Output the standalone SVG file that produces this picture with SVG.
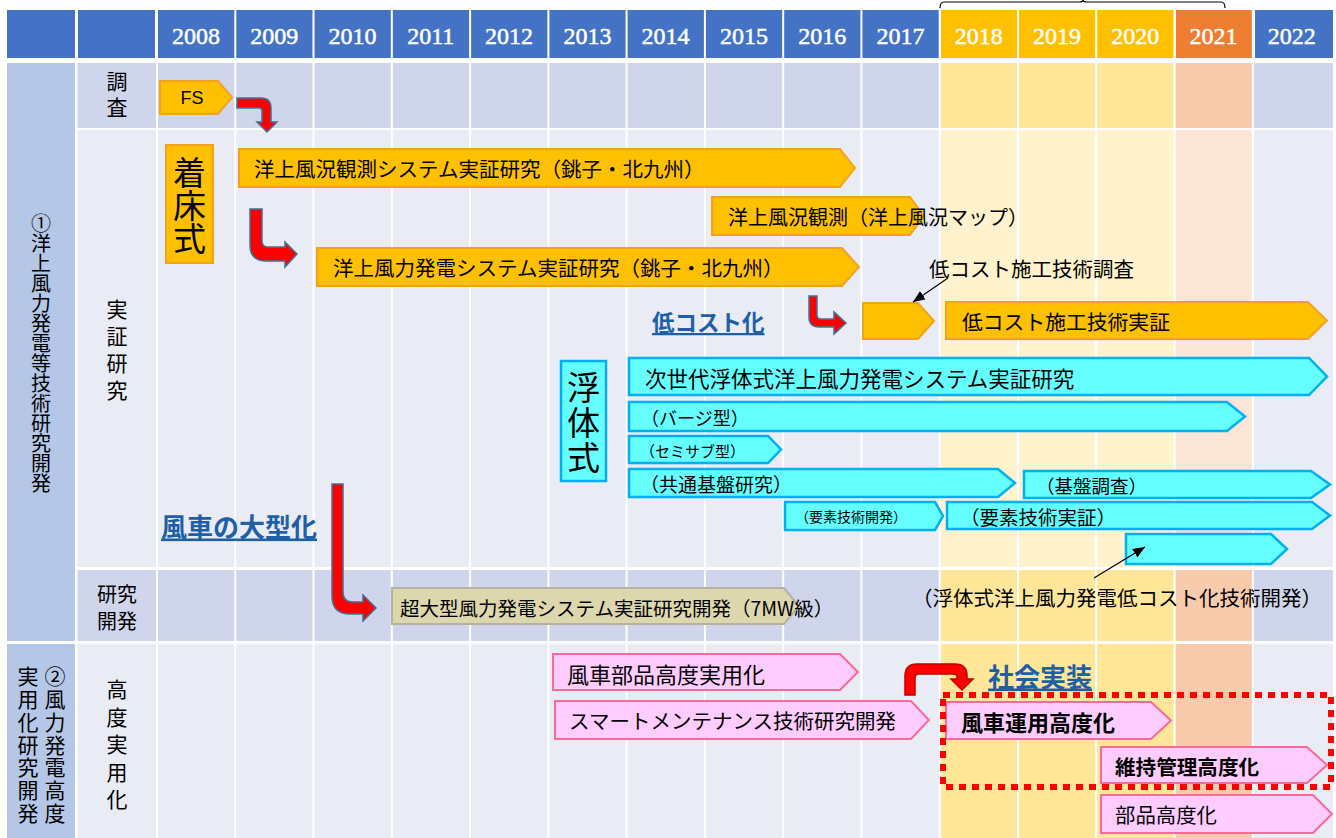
<svg xmlns="http://www.w3.org/2000/svg" width="1336" height="838" viewBox="0 0 1336 838">
<defs>
<style>
.jp{font-family:"Noto Sans CJK JP","Noto Sans",sans-serif;fill:#000}
.mid{dominant-baseline:central}
.yr{font-family:"Liberation Serif",serif;font-size:24px;fill:#fff;stroke:#fff;stroke-width:0.5;text-anchor:middle}
.vt{writing-mode:vertical-rl}
.org{fill:#ffc000;stroke:#f5a21b;stroke-width:2}
.cyn{fill:#66ffff;stroke:#00b0f0;stroke-width:2.5}
.pnk{fill:#ffccff;stroke:#f76b9b;stroke-width:2}
.bge{fill:#ddd7ae;stroke:#b5b2a2;stroke-width:2}
.blue{fill:#1f5fa5;font-weight:bold;text-decoration:underline}
.red1{fill:#ff0000;stroke:#41719c;stroke-width:1.5}
.red2{fill:#ff0000;stroke:#c00000;stroke-width:1.5}
.thin{stroke:#000;stroke-width:1.2;fill:none}
</style>
<marker id="ah" markerUnits="userSpaceOnUse" markerWidth="12" markerHeight="10" refX="12" refY="5" orient="auto">
<path d="M0,0 L12,5 L0,10 z" fill="#000"/>
</marker>
</defs>
<rect width="1336" height="838" fill="#fff"/>

<g id="grid">
<rect x="7" y="10" width="68" height="48" fill="#4472c4"/>
<rect x="78" y="10" width="77" height="48" fill="#4472c4"/>
<rect x="158" y="10" width="781" height="48" fill="#4472c4"/>
<rect x="941" y="10" width="233" height="48" fill="#ffc000"/>
<rect x="1176" y="10" width="77" height="48" fill="#ed7d31"/>
<rect x="1255" y="10" width="78" height="48" fill="#4472c4"/>
<rect x="7" y="63" width="68" height="578" fill="#b4c7e7"/>
<rect x="7" y="644" width="68" height="194" fill="#b4c7e7"/>
<rect x="77" y="63" width="864" height="65" fill="#cfd5ea"/>
<rect x="941" y="63" width="235" height="65" fill="#ffe699"/>
<rect x="1176" y="63" width="78" height="65" fill="#f8cbad"/>
<rect x="1254" y="63" width="79" height="65" fill="#cfd5ea"/>
<rect x="77" y="130" width="864" height="437" fill="#e9ebf5"/>
<rect x="941" y="130" width="235" height="437" fill="#fff2cc"/>
<rect x="1176" y="130" width="78" height="437" fill="#fbe5d6"/>
<rect x="1254" y="130" width="79" height="437" fill="#e9ebf5"/>
<rect x="77" y="570" width="864" height="71" fill="#cfd5ea"/>
<rect x="941" y="570" width="235" height="71" fill="#ffe699"/>
<rect x="1176" y="570" width="78" height="71" fill="#f8cbad"/>
<rect x="1254" y="570" width="79" height="71" fill="#cfd5ea"/>
<rect x="77" y="644" width="864" height="194" fill="#e9ebf5"/>
<rect x="941" y="644" width="235" height="194" fill="#ffe699"/>
<rect x="1176" y="644" width="78" height="194" fill="#f8cbad"/>
<rect x="1254" y="644" width="79" height="194" fill="#e9ebf5"/>
<g fill="#fff">
<rect x="75" y="10" width="2.5" height="828"/>
<rect x="156" y="10" width="2" height="828"/>
<rect x="234.3" y="10" width="2" height="828"/>
<rect x="312.5" y="10" width="2" height="828"/>
<rect x="390.8" y="10" width="2" height="828"/>
<rect x="469.1" y="10" width="2" height="828"/>
<rect x="547.4" y="10" width="2" height="828"/>
<rect x="625.6" y="10" width="2" height="828"/>
<rect x="703.9" y="10" width="2" height="828"/>
<rect x="782.2" y="10" width="2" height="828"/>
<rect x="860.4" y="10" width="2" height="828"/>
<rect x="938.7" y="10" width="2" height="828"/>
<rect x="1017" y="10" width="2" height="828"/>
<rect x="1095.2" y="10" width="2" height="828"/>
<rect x="1173.5" y="10" width="2" height="828"/>
<rect x="1251.8" y="10" width="2" height="828"/>
</g>
<text class="yr" x="196" y="44">2008</text>
<text class="yr" x="274.3" y="44">2009</text>
<text class="yr" x="352.5" y="44">2010</text>
<text class="yr" x="430.8" y="44">2011</text>
<text class="yr" x="509.1" y="44">2012</text>
<text class="yr" x="587.4" y="44">2013</text>
<text class="yr" x="665.6" y="44">2014</text>
<text class="yr" x="743.9" y="44">2015</text>
<text class="yr" x="822.2" y="44">2016</text>
<text class="yr" x="900.4" y="44">2017</text>
<text class="yr" x="978.7" y="44">2018</text>
<text class="yr" x="1057" y="44">2019</text>
<text class="yr" x="1135.2" y="44">2020</text>
<text class="yr" x="1213.5" y="44">2021</text>
<text class="yr" x="1291.8" y="44">2022</text>
<path class="thin" stroke-width="1.5" d="M940,8 Q940,2 944,2 L1079,2 Q1083,2 1083,0 Q1083,2 1087,2 L1221,2 Q1225,2 1225,8"/>
</g>

<g id="labels">
<text class="jp vt" x="41" y="213" font-size="20">①洋上風力発電等技術研究開発</text>
<text class="jp vt" x="55" y="666" font-size="21" letter-spacing="1.7">②風力発電高度</text>
<text class="jp vt" x="28" y="666" font-size="21" letter-spacing="1.7">実用化研究開発</text>
<text class="jp vt" x="117" y="71" font-size="21" letter-spacing="5">調査</text>
<text class="jp vt" x="117" y="299" font-size="21" letter-spacing="5.7">実証研究</text>
<text class="jp mid" x="117" y="593" font-size="20" text-anchor="middle">研究</text>
<text class="jp mid" x="117" y="620" font-size="20" text-anchor="middle">開発</text>
<text class="jp vt" x="117" y="679" font-size="21" letter-spacing="6.5">高度実用化</text>
<text class="jp mid blue" x="652" y="321" font-size="22.5">低コスト化</text>
<text class="jp mid blue" x="161" y="525" font-size="26">風車の大型化</text>
<text class="jp mid blue" x="988" y="675" font-size="26">社会実装</text>
</g>

<g id="node-fs">
<polygon class="org" points="160,81 218,81 232,97.5 218,114 160,114"/>
<text x="192" y="98" font-family="Liberation Sans, Arial, sans-serif" font-size="18" text-anchor="middle" dominant-baseline="central">FS</text>
</g>
<g id="node-chakushou">
<rect class="org" x="166" y="145" width="47" height="118"/>
<text class="jp vt" x="189.5" y="155.5" font-size="33">着床式</text>
</g>
<g id="node-fukyo-system">
<polygon class="org" points="239,149 840,149 855,168 840,187 239,187"/>
<text class="jp mid" x="254" y="168" font-size="20.5">洋上風況観測システム実証研究（銚子・北九州）</text>
</g>
<g id="node-fukyo-map">
<polygon class="org" points="712,197 910,197 924,216 910,235 712,235"/>
<text class="jp mid" x="728" y="216" font-size="20">洋上風況観測（洋上風況マップ）</text>
</g>
<g id="node-hatsuden-system">
<polygon class="org" points="317,248 842,248 859,267 842,286 317,286"/>
<text class="jp mid" x="333" y="267" font-size="20.5">洋上風力発電システム実証研究（銚子・北九州）</text>
</g>
<g id="node-lowcost-survey">
<polygon class="org" points="863,303 918,303 934,321 918,339 863,339"/>
<text class="jp mid" x="929" y="268" font-size="20.5">低コスト施工技術調査</text>
</g>
<g id="node-lowcost-demo">
<polygon class="org" points="946,302 1308,302 1327,320.5 1308,339 946,339"/>
<text class="jp mid" x="962" y="321" font-size="20.8">低コスト施工技術実証</text>
</g>

<g id="node-futaishiki">
<rect class="cyn" x="561" y="361" width="45" height="120"/>
<text class="jp vt" x="583.5" y="370.5" font-size="33" letter-spacing="2">浮体式</text>
</g>
<g id="node-next-gen">
<polygon class="cyn" points="629,358 1309,358 1327,376.5 1309,395 629,395"/>
<text class="jp mid" x="645" y="377" font-size="21.5">次世代浮体式洋上風力発電システム実証研究</text>
</g>
<g id="node-barge">
<polygon class="cyn" points="629,402 1227,402 1245,416.5 1227,431 629,431"/>
<text class="jp mid" x="641" y="417" font-size="18">（バージ型）</text>
</g>
<g id="node-semisub">
<polygon class="cyn" points="629,436 768,436 781,449.5 768,463 629,463"/>
<text class="jp mid" x="640" y="450" font-size="15">（セミサブ型）</text>
</g>
<g id="node-kyotsu">
<polygon class="cyn" points="629,469 998,469 1015,483 998,497 629,497"/>
<text class="jp mid" x="640" y="483" font-size="19">（共通基盤研究）</text>
</g>
<g id="node-kiban">
<polygon class="cyn" points="1024,471 1311,471 1330,484.5 1311,498 1024,498"/>
<text class="jp mid" x="1036" y="485" font-size="18.5">（基盤調査）</text>
</g>
<g id="node-yoso-dev">
<polygon class="cyn" points="785,502 935,502 943,516 935,530 785,530"/>
<text class="jp mid" x="795" y="516" font-size="14">（要素技術開発）</text>
</g>
<g id="node-yoso-demo">
<polygon class="cyn" points="947,502 1312,502 1330,515.5 1312,529 947,529"/>
<text class="jp mid" x="960" y="516" font-size="19.5">（要素技術実証）</text>
</g>
<g id="node-floating-lowcost">
<polygon class="cyn" points="1126,534 1271,534 1287,549 1271,564 1126,564"/>
<text class="jp mid" x="912" y="597" font-size="20.5">（浮体式洋上風力発電低コスト化技術開発）</text>
</g>

<g id="node-7mw">
<polygon class="bge" points="392,588 784,588 799,606 784,624 392,624"/>
<text class="jp mid" x="400" y="607" font-size="19.5">超大型風力発電システム実証研究開発（7MW級）</text>
</g>

<g id="node-parts-practical">
<polygon class="pnk" points="553,654 840,654 858,672 840,690 553,690"/>
<text class="jp mid" x="567" y="673" font-size="22">風車部品高度実用化</text>
</g>
<g id="node-smart">
<polygon class="pnk" points="555,701 911,701 929,720 911,739 555,739"/>
<text class="jp mid" x="569" y="720" font-size="20.5">スマートメンテナンス技術研究開発</text>
</g>
<g id="node-operation">
<polygon class="pnk" points="946,702 1151,702 1171,720.5 1151,739 946,739"/>
<text class="jp mid" x="961" y="721" font-size="22" font-weight="bold">風車運用高度化</text>
</g>
<g id="node-maintenance">
<polygon class="pnk" points="1101,747 1307,747 1327,765 1307,783 1101,783"/>
<text class="jp mid" x="1115" y="766" font-size="20.6" font-weight="bold">維持管理高度化</text>
</g>
<g id="node-parts">
<polygon class="pnk" points="1101,795 1313,795 1332,814 1313,833 1101,833"/>
<text class="jp mid" x="1115" y="814" font-size="20.4">部品高度化</text>
</g>

<g id="group-frame">
<rect x="943" y="695" width="388" height="92" fill="none" stroke="#ff0000" stroke-width="6" stroke-dasharray="7 6"/>
</g>

<g id="connectors">
<path class="red1" d="M237,98 L261,98 Q271,98 271,108 L271,122 L277,122 L267,132 L257,122 L262,122 L262,111 Q262,108 259,108 L237,108 Z"/>
<path class="red1" d="M250,209 L262,209 L262,241 Q262,247 268,247 L285,247 L285,242 L297,254 L285,267 L285,261 L266,261 Q250,261 250,245 Z"/>
<path class="red1" d="M809,296 L817,296 L817,315 Q817,319 821,319 L834,319 L834,312 L846,323 L834,334 L834,327 L819,327 Q809,327 809,317 Z"/>
<path class="red1" d="M332,484 L343,484 L343,592 Q343,602 353,602 L363,602 L363,595 L376,608 L363,621 L363,614 L350,614 Q332,614 332,596 Z"/>
<path class="red2" d="M905,695 L905,676 Q905,664 917,664 L955,664 Q967,664 967,676 L967,679 L973,679 L962,690 L951,679 L957,679 L957,677 Q957,674 953,674 L919,674 Q915,674 915,678 L915,695 Z"/>
<line class="thin" x1="948" y1="278" x2="913" y2="302" marker-end="url(#ah)"/>
<line class="thin" x1="1094" y1="578" x2="1145" y2="547" marker-end="url(#ah)"/>
</g>
</svg>
